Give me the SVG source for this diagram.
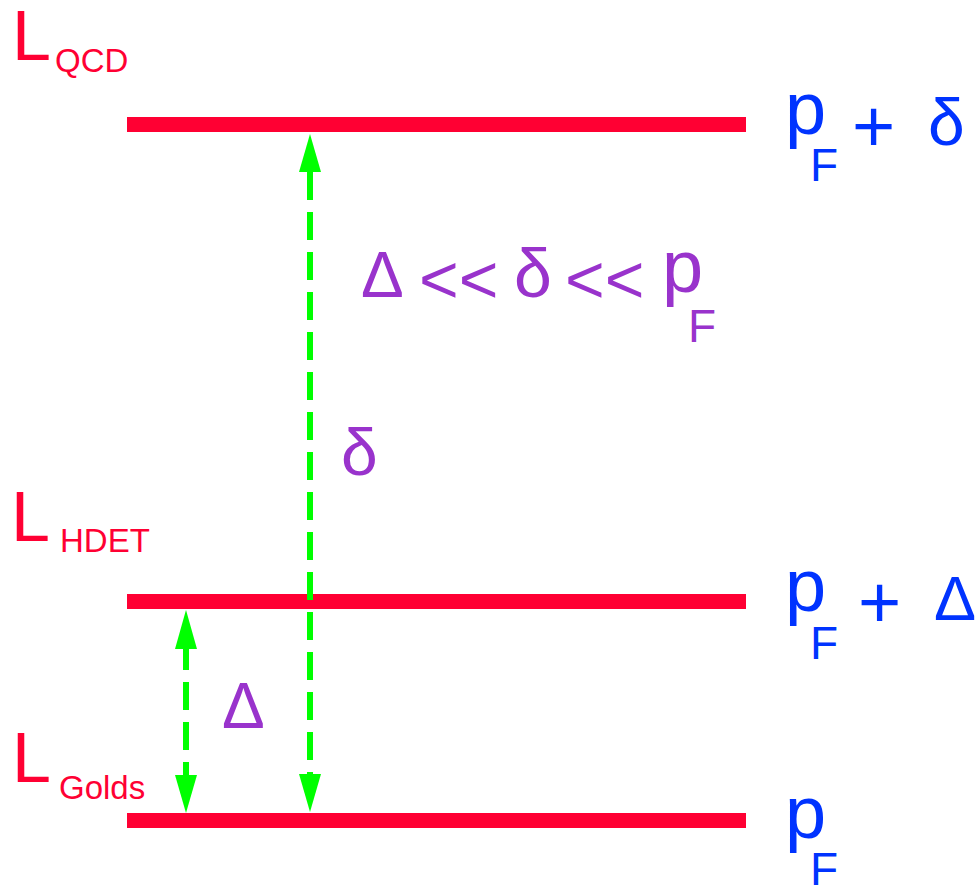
<svg xmlns="http://www.w3.org/2000/svg" width="976" height="885" viewBox="0 0 976 885">
<style>
.bar{fill:#FF0033}
.lbl{font-family:"Liberation Sans",Arial,sans-serif;fill:#FF0033}
.blue{font-family:"Liberation Sans",Arial,sans-serif;fill:#0033FF}
.pur{font-family:"Liberation Sans",Arial,sans-serif;fill:#9933CC}
.dash{stroke:#00FF00;stroke-width:6;stroke-dasharray:28 12;fill:none}
.head{fill:#00FF00}
</style>
<rect width="976" height="885" fill="#FFFFFF"/>
<g id="level-qcd">
<rect class="bar" x="127" y="117" width="619" height="15"/>
<text class="lbl" x="12" y="60" font-size="70">L</text>
<text class="lbl" x="55" y="72" font-size="33">QCD</text>
<text class="blue" x="785" y="134" font-size="74">p</text>
<text class="blue" x="810" y="181" font-size="46">F</text>
<text class="blue" x="852" y="152" font-size="74">+</text>
<text class="blue" x="928" y="145" font-size="66">δ</text>
</g>
<g id="level-hdet">
<rect class="bar" x="127" y="594" width="619" height="15"/>
<text class="lbl" x="11" y="541" font-size="70">L</text>
<text class="lbl" x="60" y="552" font-size="33">HDET</text>
<text class="blue" x="785" y="611" font-size="74">p</text>
<text class="blue" x="810" y="659" font-size="46">F</text>
<text class="blue" x="858" y="628" font-size="74">+</text>
<text class="blue" x="934" y="620" font-size="63">Δ</text>
</g>
<g id="level-golds">
<rect class="bar" x="127" y="813" width="619" height="15"/>
<text class="lbl" x="12" y="782" font-size="70">L</text>
<text class="lbl" x="59" y="799" font-size="33">Golds</text>
<text class="blue" x="785" y="838" font-size="74">p</text>
<text class="blue" x="810" y="885" font-size="46">F</text>
</g>
<g id="relation">
<text class="pur" x="361" y="297" font-size="64">Δ</text>
<text class="pur" x="419" y="303" font-size="68">&lt;&lt;</text>
<text class="pur" x="514" y="297" font-size="68">δ</text>
<text class="pur" x="565" y="303" font-size="68">&lt;&lt;</text>
<text class="pur" x="662" y="292" font-size="74">p</text>
<text class="pur" x="688" y="342" font-size="46">F</text>
</g>
<g id="connectors">
<line class="dash" x1="310" y1="172" x2="310" y2="776"/>
<polygon class="head" points="310,134 299,172 321,172"/>
<polygon class="head" points="310,812 299,774 321,774"/>
<line class="dash" x1="186" y1="642" x2="186" y2="777"/>
<polygon class="head" points="186,610 175,649 197,649"/>
<polygon class="head" points="186,813 175,775 197,775"/>
<text class="pur" x="341" y="475" font-size="66">δ</text>
<text class="pur" x="222" y="728" font-size="64">Δ</text>
</g>
</svg>
